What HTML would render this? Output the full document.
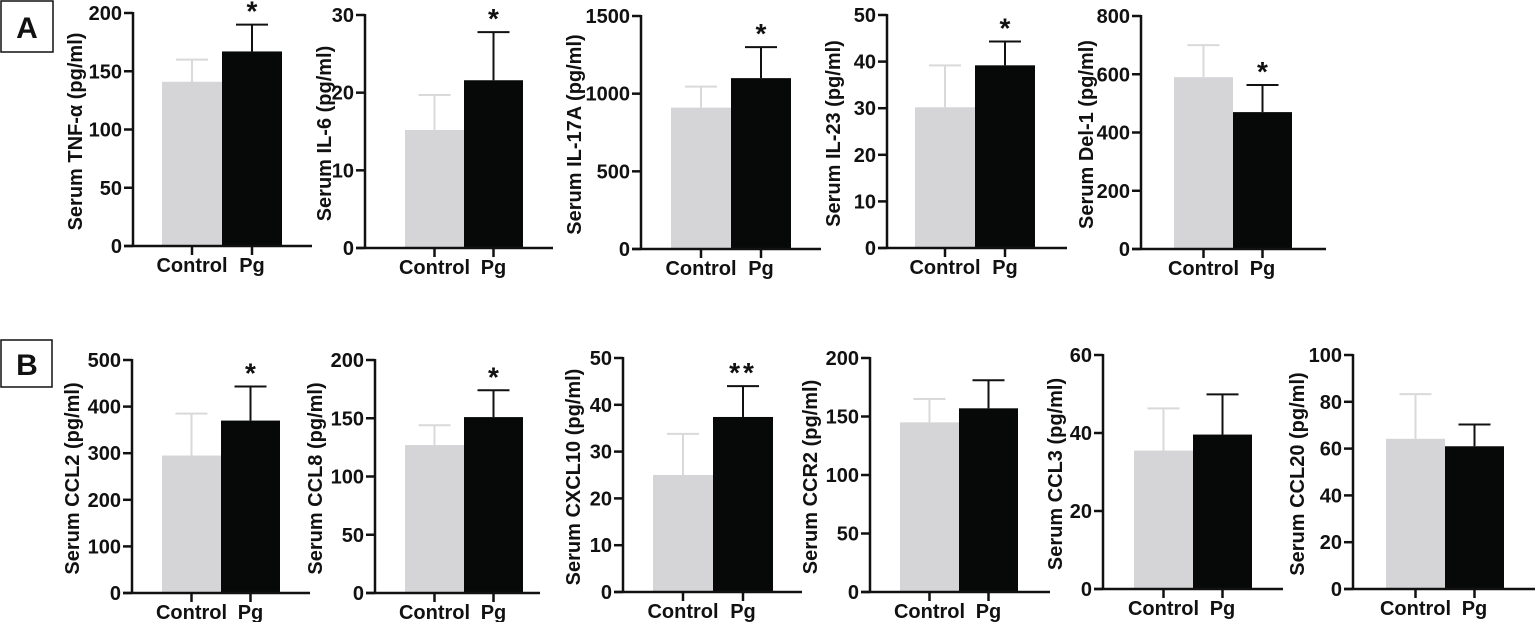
<!DOCTYPE html>
<html><head><meta charset="utf-8"><style>
html,body{margin:0;padding:0;background:#fff;}
svg{display:block;font-family:"Liberation Sans",Arial,sans-serif;font-weight:bold;}
</style></head><body>
<svg id="fig" width="1535" height="622" viewBox="0 0 1535 622">
<g><rect x="1" y="1" width="52" height="51" fill="none" stroke="#111" stroke-width="1.5"/><text x="27" y="38" font-size="30" text-anchor="middle" fill="#111">A</text></g>
<g><rect x="1" y="340" width="51" height="47" fill="none" stroke="#111" stroke-width="1.5"/><text x="27" y="375" font-size="30" text-anchor="middle" fill="#111">B</text></g>
</svg>
<script>
const categories = ["Control", "Pg"];
const titles = ["Serum TNF-\u03b1 (pg/ml)","Serum IL-6 (pg/ml)","Serum IL-17A (pg/ml)","Serum IL-23 (pg/ml)","Serum Del-1 (pg/ml)","Serum CCL2 (pg/ml)","Serum CCL8 (pg/ml)","Serum CXCL10 (pg/ml)","Serum CCR2 (pg/ml)","Serum CCL3 (pg/ml)","Serum CCL20 (pg/ml)"];
const controlMeans = [141, 15.2, 910, 30.2, 590, 295, 127, 25, 145, 35.5, 64.2];
const controlErr = [19, 4.5, 135, 9, 110, 90, 17, 8.8, 20, 10.8, 19.1];
const pgMeans = [167, 21.6, 1100, 39.2, 470, 370, 151, 37.4, 157, 39.6, 61];
const pgErr = [23, 6.2, 200, 5.1, 93, 73, 23, 6.6, 24, 10.3, 9.3];
const yMax = [200, 30, 1500, 50, 800, 500, 200, 50, 200, 60, 100];
const yStep = [50, 10, 500, 10, 200, 100, 50, 10, 50, 20, 20];
const stars = ["*", "*", "*", "*", "*", "*", "*", "**", "", "", ""];
// layout (not data)
const L = [
 {ax:133,top:13,bot:246,b0:162,bw:60,xe:312,tx:75},
 {ax:365,top:15,bot:248,b0:405,bw:59,xe:553,tx:324},
 {ax:641,top:16,bot:249,b0:671,bw:60,xe:821,tx:574},
 {ax:887,top:15,bot:248,b0:915,bw:60,xe:1067,tx:833},
 {ax:1141,top:16,bot:249,b0:1174,bw:59,xe:1326,tx:1086},
 {ax:132,top:360,bot:593,b0:162,bw:59,xe:310,tx:72},
 {ax:375,top:360,bot:593,b0:405,bw:59,xe:540,tx:315},
 {ax:623,top:358,bot:592,b0:653,bw:60,xe:802,tx:573},
 {ax:870,top:358,bot:592,b0:900,bw:59,xe:1050,tx:810},
 {ax:1103,top:355,bot:589,b0:1134,bw:59,xe:1283,tx:1055},
 {ax:1353,top:355,bot:589,b0:1386,bw:59,xe:1535,tx:1297}
];
const NS="http://www.w3.org/2000/svg";
const svg=document.getElementById('fig');
function mk(tag,attrs,parent){const e=document.createElementNS(NS,tag);for(const k in attrs)e.setAttribute(k,attrs[k]);parent.appendChild(e);return e;}
const slug=t=>t.replace(/Serum |\(pg\/ml\)/g,'').trim().toLowerCase().replace(/[^a-z0-9]+/g,'-').replace(/-+$/,'');
titles.forEach((t,i)=>{
  const g=L[i];
  const y=v=>g.bot-(v/yMax[i])*(g.bot-g.top);
  const grp=mk('g',{},svg);
  
  
  const means=[controlMeans[i],pgMeans[i]], errs=[controlErr[i],pgErr[i]];
  const fills=['#d5d5d7','#070808'], ecol=['#d9d9db','#111'];
  means.forEach((m,j)=>{
    const x0=g.b0+j*g.bw, cx=x0+g.bw/2;
    const el=mk('line',{x1:cx,x2:cx,y1:y(m),y2:y(m+errs[j]),stroke:ecol[j],'stroke-width':2},grp);
    
    
    const cap=mk('line',{x1:cx-16,x2:cx+16,y1:y(m+errs[j]),y2:y(m+errs[j]),stroke:ecol[j],'stroke-width':2},grp);
    
    
    const r=mk('rect',{x:x0,y:y(m),width:g.bw,height:g.bot-y(m),fill:fills[j]},grp);
    
    
    const xt=mk('line',{x1:cx,x2:cx,y1:g.bot,y2:g.bot+9,stroke:'#111','stroke-width':2.5},grp);
    
    
    const xl=mk('text',{x:cx,y:g.bot+26,'font-size':20,'text-anchor':'middle',fill:'#111'},grp);
    xl.textContent=categories[j];
    
    
  });
  if(stars[i]){
    const cx=g.b0+g.bw*1.5;
    const s=mk('text',{x:cx,y:y(pgMeans[i]+pgErr[i])-4,'font-size':28,'text-anchor':'middle',fill:'#111','letter-spacing':stars[i].length>1?3:0},grp);
    s.textContent=stars[i];
    
    
  }
  const ya=mk('line',{x1:g.ax,x2:g.ax,y1:g.top-1,y2:g.bot+1,stroke:'#111','stroke-width':2.5},grp);
  
  
  const xa=mk('line',{x1:g.ax-9,x2:g.xe,y1:g.bot,y2:g.bot,stroke:'#111','stroke-width':2.5},grp);
  
  
  for(let v=0;v<=yMax[i]+1e-9;v+=yStep[i]){
    const tk=mk('line',{x1:g.ax-9,x2:g.ax,y1:y(v),y2:y(v),stroke:'#111','stroke-width':2.5},grp);
    
    
    const tl=mk('text',{x:g.ax-11,y:y(v)+7,'font-size':20,'text-anchor':'end',fill:'#111'},grp);
    tl.textContent=String(v);
    
    
  }
  const cy=(g.top+g.bot)/2+2;
  const yt=mk('text',{x:g.tx,y:cy,'font-size':20,'text-anchor':'middle',fill:'#111',transform:`rotate(-90 ${g.tx} ${cy})`,dy:7},grp);
  yt.textContent=t;
  
  
});
</script>
</body></html>
